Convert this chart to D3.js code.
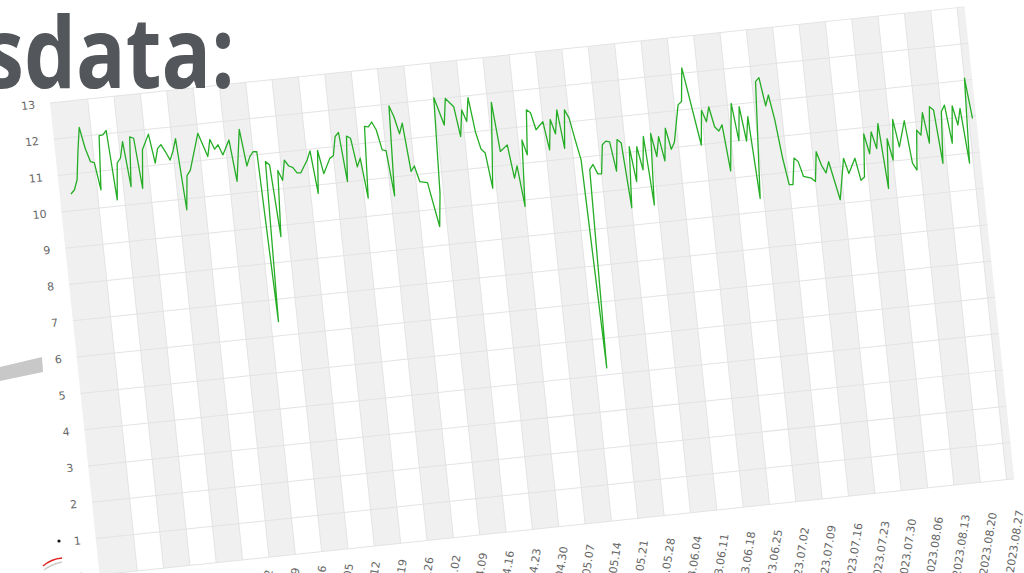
<!DOCTYPE html>
<html>
<head>
<meta charset="utf-8">
<script src="https://cdnjs.cloudflare.com/ajax/libs/d3/7.8.5/d3.min.js"></script>
<style>
  body { margin: 0; background: #fff; overflow: hidden; }
  svg { display: block; }
</style>
</head>
<body>
<script>
// daily series, day offsets counted from 2023-01-01
var startDay = new Date(2023, 0, 1);
var dayOffsets = [0,1,2,3,4,5,6,7,8,9,10,11,12,13,14,15,16,17,18,19,20,22,23,24,25,26,27,28,29,30,
  31,32,35,37,38,39,40,41,43,44,46,47,48,49,50,51,52,53,54,55,56,57,58,59,60,61,63,64,65,66,
  67,69,70,71,72,73,74,75,76,77,78,79,80,81,82,83,84,85,86,87,88,89,90,91,92,94,96,97,98,100,
  101,103,104,105,106,107,108,109,110,111,113,114,116,117,118,119,120,121,122,123,124,126,127,128,129,130,131,132,133,134,
  135,136,137,138,139,140,141,142,143,144,145,146,147,148,149,150,151,152,153,154,155,156,157,158,159,160,162,163,164,167,
  168,169,170,171,172,173,174,176,177,178,179,180,181,183,184,185,186,187,188,189,190,191,192,193,195,196,197,198,199,200,
  202,204,205,207,208,209,210,211,212,213,214,215,216,217,218,219,221,222,223,224,225,226,227,228,229,230,231,232,233,234,
  235,236,237,238,239];
var values = [10.46,10.56,10.83,11.60,12.25,11.66,11.29,11.25,10.49,11.97,11.98,12.09,10.17,11.17,11.30,11.74,10.49,11.85,11.80,10.41,11.46,11.87,11.06,11.45,11.55,11.34,11.10,11.34,11.67,9.70,
  10.63,10.76,11.75,11.09,11.55,11.27,11.38,11.09,11.48,10.33,11.74,10.72,10.96,11.09,11.08,6.39,10.79,10.68,8.70,10.51,10.23,10.77,10.60,10.55,10.39,10.38,10.71,10.95,9.77,10.94,
  10.29,10.69,10.75,11.27,11.37,10.01,11.25,11.18,10.38,10.61,9.50,11.46,11.44,11.56,11.33,10.77,10.74,9.48,11.95,11.64,11.16,11.44,10.10,10.24,9.80,9.75,8.52,9.42,12.05,11.27,
  11.99,11.74,10.91,11.63,11.30,11.95,11.00,10.51,10.39,9.41,11.75,10.39,10.55,9.62,9.95,8.82,10.64,10.22,11.45,11.36,10.88,11.08,10.29,11.12,10.71,11.36,10.29,11.34,11.10,10.49,
  9.93,4.19,9.64,9.77,9.50,9.49,10.28,10.37,10.34,9.52,10.38,10.28,8.48,10.15,9.18,10.13,9.48,10.39,8.49,10.45,9.80,10.34,9.66,10.55,9.96,10.14,11.15,11.23,12.15,9.99,
  10.94,10.61,11.01,10.45,10.32,10.48,9.20,11.04,10.00,10.93,9.97,10.63,8.37,11.56,11.66,10.87,11.16,10.47,9.41,8.66,8.65,9.37,9.26,8.84,8.77,8.67,9.48,9.10,8.87,9.17,
  8.10,9.22,8.79,9.19,8.57,8.65,9.83,9.27,9.86,9.39,10.07,8.27,9.63,9.03,10.14,9.37,10.07,8.89,8.69,9.78,9.63,10.24,9.39,10.38,10.28,8.80,10.21,10.38,9.32,10.34,
  9.80,10.25,8.73,11.06,9.94];
var yTickValues = [0,1,2,3,4,5,6,7,8,9,10,11,12,13];
var firstWeekTick = new Date(2023, 0, 8);
var lastWeekTick = new Date(2023, 7, 27);
var axisStart = new Date(2022, 11, 29);
var axisEnd = new Date(2023, 7, 29);
var titleText = "sdata:";

var W = 1024, H = 573;
var svg = d3.select("body").append("svg").attr("width", W).attr("height", H);

// grey bar of the slide, behind the chart picture
svg.append("path").attr("d", "M0,367L42,357L43,372L0,381Z").attr("fill", "#c8c8c8");

// the chart itself sits tilted on the slide
var chart = svg.append("g").attr("transform", "rotate(-6,50,103)");

var x = d3.scaleTime().domain([axisStart, axisEnd]).range([50, 969.6]);
var y = d3.scaleLinear().domain([0, 13]).range([577.5, 103]);

var weekTicks = d3.timeWeek.range(firstWeekTick, d3.timeDay.offset(lastWeekTick, 1));
var edges = [axisStart].concat(weekTicks, [axisEnd]);

chart.append("g").selectAll("rect")
  .data(d3.pairs(edges).filter(function (p, i) { return i % 2 === 0; }))
  .join("rect")
  .attr("x", function (p) { return x(p[0]); })
  .attr("width", function (p) { return x(p[1]) - x(p[0]); })
  .attr("y", y(13))
  .attr("height", y(0) - y(13))
  .attr("fill", "#f0f0f0");

chart.append("g").selectAll("line")
  .data(weekTicks)
  .join("line")
  .attr("x1", function (d) { return x(d); }).attr("x2", function (d) { return x(d); })
  .attr("y1", y(13)).attr("y2", y(0))
  .attr("stroke", "#e3e3e3");

chart.append("g").selectAll("line")
  .data(yTickValues)
  .join("line")
  .attr("x1", x(axisStart)).attr("x2", x(axisEnd))
  .attr("y1", function (d) { return y(d); }).attr("y2", function (d) { return y(d); })
  .attr("stroke", "#e3e3e3");

// y labels
var yAxis = chart.append("g").attr("transform", "translate(50,0)")
  .call(d3.axisLeft(y).tickValues(yTickValues).tickSize(0).tickPadding(15));
yAxis.select(".domain").remove();
yAxis.selectAll("text").attr("fill", "#666").style("font", "11px 'DejaVu Sans'");

// x labels (the photo bends a little towards the bottom, labels follow that)
var xAxis = chart.append("g").attr("transform", "translate(0," + y(0) + ")")
  .call(d3.axisBottom(x).tickValues(weekTicks).tickFormat(d3.timeFormat("%Y.%m.%d")).tickSize(0));
xAxis.select(".domain").remove();
xAxis.selectAll("text")
  .attr("x", 0).attr("y", 0).attr("dy", "0.35em")
  .attr("text-anchor", "end")
  .attr("transform", function (d) {
    var off = x(d) - 540;
    return "translate(" + (3 + 0.015 * off) + "," + (21 + 0.026 * off) + ") rotate(-75)";
  })
  .attr("fill", "#666")
  .style("font", "11px 'DejaVu Sans'");

var series = dayOffsets.map(function (d, i) {
  return { date: d3.timeDay.offset(startDay, d), v: values[i] };
});
chart.append("path")
  .datum(series)
  .attr("fill", "none")
  .attr("stroke", "#25ad25")
  .attr("stroke-width", 1.3)
  .attr("stroke-linejoin", "round")
  .attr("d", d3.line().x(function (d) { return x(d.date); }).y(function (d) { return y(d.v); }));

// slide title over the picture
svg.append("text")
  .text(titleText)
  .attr("x", 0).attr("y", 88)
  .attr("transform", "translate(-17,0) scale(0.84,1)")
  .attr("fill", "#53565a")
  .style("font", "bold 98px 'Open Sans'");

// small bits of the slide at the lower left
svg.append("circle").attr("cx", 59).attr("cy", 541).attr("r", 1.6).attr("fill", "#111");
svg.append("path").attr("d", "M43,566Q51,559 62,558").attr("fill", "none").attr("stroke", "#e02020").attr("stroke-width", 1.5);
svg.append("path").attr("d", "M44,570Q52,564 62,562").attr("fill", "none").attr("stroke", "#ccc").attr("stroke-width", 1.5);
</script>
</body>
</html>
